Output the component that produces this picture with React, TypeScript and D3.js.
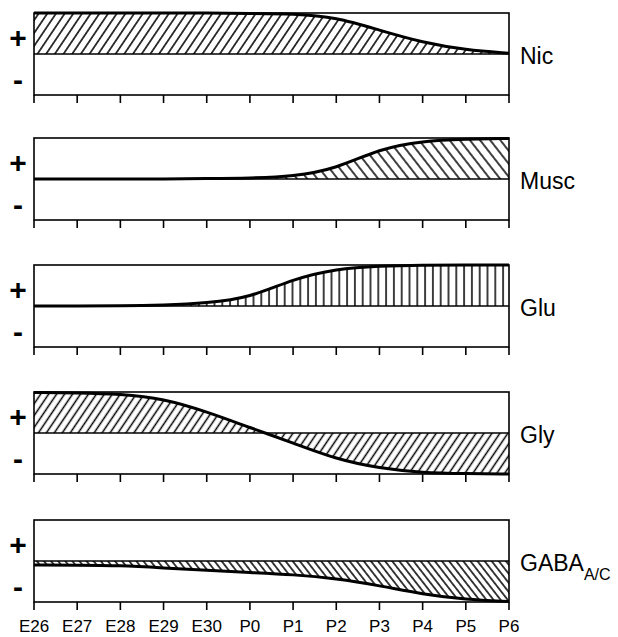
import React from 'react';
import * as d3 from 'd3';

// developmental ages along the x axis
const ages = ['E26', 'E27', 'E28', 'E29', 'E30', 'P0', 'P1', 'P2', 'P3', 'P4', 'P5', 'P6'];

// response sign/magnitude at each age (+1 = fully excitatory, -1 = fully inhibitory)
const nicValues = [1, 1, 1, 1, 1, 0.99, 0.98, 0.9, 0.58, 0.28, 0.1, 0.02];
const muscValues = [0, 0, 0, 0, 0.01, 0.02, 0.06, 0.25, 0.74, 0.93, 0.97, 0.99];
const gluValues = [0, 0, 0, 0.02, 0.07, 0.2, 0.66, 0.91, 0.98, 1, 1, 1];
const glyValues = [0.99, 0.98, 0.95, 0.84, 0.52, 0.13, -0.24, -0.64, -0.86, -0.97, -0.99, -1];
const gabaValues = [-0.1, -0.1, -0.11, -0.17, -0.23, -0.28, -0.33, -0.43, -0.6, -0.81, -0.94, -0.99];

const receptorNames = ['Nic', 'Musc', 'Glu', 'Gly', 'GABA'];
const receptorSubs = ['', '', '', '', 'A/C'];
const receptorValues = [nicValues, muscValues, gluValues, glyValues, gabaValues];

// hatch style per panel: angle of pattern rotation and spacing
const hatchAngles = [34, -38, 0, 34, -38];
const hatchSpacing = [7.2, 8, 7.8, 6.6, 5.6];

const W = 618;
const H = 637;
const left = 34;
const right = 509;
const panelTops = [13, 138, 265, 392, 520];
const panelH = 82;
const tickLen = 8;
const font = 'Liberation Sans, Arial, sans-serif';

function Panel({ idx }: { idx: number }) {
  const top = panelTops[idx];
  const x = d3.scalePoint<string>().domain(ages).range([left, right]);
  const y = d3.scaleLinear().domain([-1, 1]).range([top + panelH, top]);
  const vals = receptorValues[idx];
  const data = ages.map((a, i) => ({ a, v: vals[i] }));

  const area = d3.area<{ a: string; v: number }>()
    .x(d => x(d.a) as number)
    .y0(y(0))
    .y1(d => y(d.v))
    .curve(d3.curveBasis);

  const line = d3.line<{ a: string; v: number }>()
    .x(d => x(d.a) as number)
    .y(d => y(d.v))
    .curve(d3.curveBasis);

  const pid = `hatch${idx}`;
  const sp = hatchSpacing[idx];

  return (
    <g>
      <defs>
        <pattern id={pid} patternUnits="userSpaceOnUse" width={sp} height={sp}
          patternTransform={`rotate(${hatchAngles[idx]})`}>
          <line x1={sp / 2} y1={0} x2={sp / 2} y2={sp} stroke="#000" strokeWidth={1.5} />
        </pattern>
      </defs>
      <path d={area(data) || ''} fill={`url(#${pid})`} />
      <rect x={left} y={top} width={right - left} height={panelH}
        fill="none" stroke="#000" strokeWidth={1.6} />
      <line x1={left} x2={right} y1={y(0)} y2={y(0)} stroke="#000" strokeWidth={1.6} />
      <path d={line(data) || ''} fill="none" stroke="#000" strokeWidth={3} />
      {ages.map(a => (
        <line key={a} x1={x(a)} x2={x(a)} y1={top + panelH} y2={top + panelH + tickLen}
          stroke="#000" strokeWidth={1.6} />
      ))}
      <text x={18} y={top + 24} textAnchor="middle" dominantBaseline="central"
        fontFamily={font} fontWeight="bold" fontSize={30}>+</text>
      <text x={18} y={top + 66} textAnchor="middle" dominantBaseline="central"
        fontFamily={font} fontWeight="bold" fontSize={30}>-</text>
      <text x={520} y={y(0) + 10} fontFamily={font} fontSize={23}>
        {receptorNames[idx]}
        {receptorSubs[idx] && (
          <tspan fontSize={16} dy={9}>{receptorSubs[idx]}</tspan>
        )}
      </text>
      {idx === receptorNames.length - 1 && ages.map(a => (
        <text key={'l' + a} x={x(a)} y={632} textAnchor="middle"
          fontFamily={font} fontSize={17}>{a}</text>
      ))}
    </g>
  );
}

export default function App() {
  return (
    <div style={{ position: 'absolute', left: 0, top: 0 }}>
      <svg width={W} height={H} style={{ display: 'block', background: '#fff' }}>
        {receptorNames.map((_, i) => <Panel key={i} idx={i} />)}
      </svg>
    </div>
  );
}
